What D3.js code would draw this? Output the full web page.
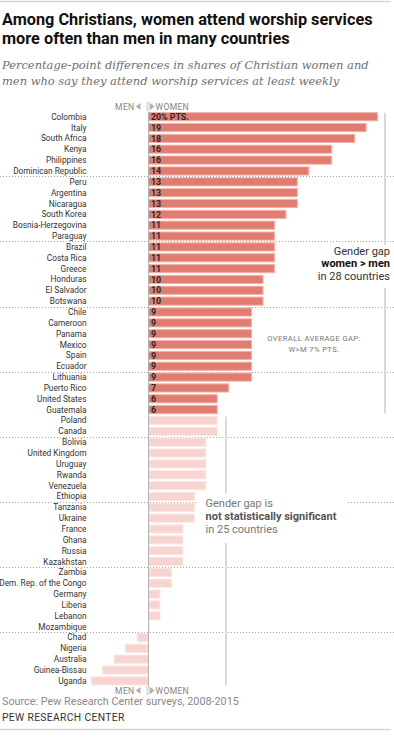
<!DOCTYPE html>
<html>
<head>
<meta charset="utf-8">
<script src="https://cdn.jsdelivr.net/npm/d3@7"></script>
<style>
  body { margin: 0; background: #fff; }
  svg { display: block; }
</style>
</head>
<body>
<div id="chart"></div>
<script>
// gap = % women attending weekly minus % men, Christians only
var countries = [
  "Colombia", "Italy", "South Africa", "Kenya", "Philippines", "Dominican Republic",
  "Peru", "Argentina", "Nicaragua", "South Korea", "Bosnia-Herzegovina", "Paraguay",
  "Brazil", "Costa Rica", "Greece", "Honduras", "El Salvador", "Botswana",
  "Chile", "Cameroon", "Panama", "Mexico", "Spain", "Ecuador",
  "Lithuania", "Puerto Rico", "United States", "Guatemala", "Poland", "Canada",
  "Bolivia", "United Kingdom", "Uruguay", "Rwanda", "Venezuela", "Ethiopia",
  "Tanzania", "Ukraine", "France", "Ghana", "Russia", "Kazakhstan",
  "Zambia", "Dem. Rep. of the Congo", "Germany", "Liberia", "Lebanon", "Mozambique",
  "Chad", "Nigeria", "Australia", "Guinea-Bissau", "Uganda"
];
var gaps = [
  20, 19, 18, 16, 16, 14,
  13, 13, 13, 12, 11, 11,
  11, 11, 11, 10, 10, 10,
  9, 9, 9, 9, 9, 9,
  9, 7, 6, 6, 6, 6,
  5, 5, 5, 5, 5, 4,
  4, 4, 3, 3, 3, 3,
  2, 2, 1, 1, 1, 0,
  -1, -2, -3, -4, -5
];
var significantCount = 28; // first 28 rows: women > men, significant
var groupSize = 6;

var width = 394, height = 741;
var svg = d3.select("#chart").append("svg")
  .attr("width", width).attr("height", height);

var x = d3.scaleLinear().domain([0, 20]).range([148.5, 377.5]);
var y = d3.scaleBand().domain(countries).range([111.3, 686.3]).paddingInner(0.25).paddingOuter(0.125);

var sans = "Roboto, 'Liberation Sans', sans-serif";

// top / bottom rules
svg.append("line").attr("x1", 0).attr("x2", 391).attr("y1", 1.5).attr("y2", 1.5)
  .attr("stroke", "#d6d6d6").attr("stroke-width", 1.5);
svg.append("line").attr("x1", 0).attr("x2", 391).attr("y1", 729.5).attr("y2", 729.5)
  .attr("stroke", "#d6d6d6").attr("stroke-width", 1.5);

// title
var title = svg.append("text").attr("font-family", sans).attr("font-weight", 700)
  .attr("font-size", 16.3).attr("fill", "#111");
title.append("tspan").attr("x", 2).attr("y", 25).text("Among Christians, women attend worship services");
title.append("tspan").attr("x", 2).attr("y", 43.5).text("more often than men in many countries");

// subtitle: size it so the first line spans the same width as the original
var sub = svg.append("text").attr("font-family", "'DejaVu Serif', Georgia, serif")
  .attr("font-style", "italic").attr("font-size", 12).attr("fill", "#6f6f6f");
var sub1 = sub.append("tspan").attr("x", 2).attr("y", 69).text("Percentage-point differences in shares of Christian women and");
sub.append("tspan").attr("x", 2).attr("y", 85).text("men who say they attend worship services at least weekly");
var w1 = sub1.node().getComputedTextLength();
if (w1 > 0) sub.attr("font-size", 12 * 367 / w1);

// group separators
var bounds = [];
countries.forEach(function(c, i) {
  if (i % groupSize === groupSize - 1 && i < countries.length - 1) {
    bounds.push((y(c) + y.bandwidth() + y(countries[i + 1])) / 2);
  }
});
svg.append("g").selectAll("line").data(bounds).join("line")
  .attr("x1", 0).attr("x2", width)
  .attr("y1", function(d) { return Math.round(d) + 0.5; })
  .attr("y2", function(d) { return Math.round(d) + 0.5; })
  .attr("stroke", "#a5a5a5").attr("stroke-width", 1).attr("stroke-dasharray", "1,2");

// brackets on the right
var sigEnd = y(countries[significantCount - 1]) + y.bandwidth();
var nsStart = y(countries[significantCount]);
svg.append("line").attr("x1", 385).attr("x2", 385)
  .attr("y1", y(countries[0])).attr("y2", sigEnd)
  .attr("stroke", "#d9d9d9").attr("stroke-width", 2);
svg.append("line").attr("x1", 226).attr("x2", 226)
  .attr("y1", nsStart).attr("y2", y(countries[countries.length - 1]) + y.bandwidth())
  .attr("stroke", "#d9d9d9").attr("stroke-width", 2);

// bars
var data = countries.map(function(c, i) { return { name: c, gap: gaps[i], sig: i < significantCount }; });

svg.append("g").selectAll("rect").data(data).join("rect")
  .attr("x", function(d) { return Math.min(x(0), x(d.gap)); })
  .attr("y", function(d) { return y(d.name); })
  .attr("width", function(d) { return Math.max(Math.abs(x(d.gap) - x(0)), 0.6); })
  .attr("height", y.bandwidth())
  .attr("fill", function(d) { return d.sig ? "#e07d70" : "#f8d4d0"; })
  .attr("stroke", function(d) { return d.sig ? "#f2b1a8" : "#fbe4e1"; })
  .attr("stroke-width", 1);

// zero line
svg.append("line").attr("x1", x(0)).attr("x2", x(0))
  .attr("y1", y(countries[0]) - 1).attr("y2", y(countries[countries.length - 1]) + y.bandwidth() + 1)
  .attr("stroke", "#b5b5b5").attr("stroke-width", 1);

// value labels
svg.append("g").selectAll("text").data(data.filter(function(d) { return d.sig; })).join("text")
  .attr("x", x(0) + 2.5)
  .attr("y", function(d) { return y(d.name) + y.bandwidth() / 2; })
  .attr("dy", "0.36em")
  .attr("font-family", sans).attr("font-weight", 700).attr("font-size", 8.8)
  .attr("fill", "#2a2a2a")
  .text(function(d, i) { return i === 0 ? d.gap + "% PTS." : d.gap; });

// country labels
svg.append("g").selectAll("text").data(countries).join("text")
  .attr("x", 86.5)
  .attr("y", function(d) { return y(d) + y.bandwidth() / 2; })
  .attr("dy", "0.36em")
  .attr("text-anchor", "end")
  .attr("font-family", sans).attr("font-size", 8.3).attr("fill", "#333")
  .text(function(d) { return d; });

// MEN / WOMEN direction keys
function dirKey(cy) {
  var g = svg.append("g").attr("font-family", sans).attr("font-size", 8.6).attr("fill", "#858585");
  g.append("text").attr("x", x(0) - 14).attr("y", cy).attr("dy", "0.36em")
    .attr("text-anchor", "end").attr("letter-spacing", 0.3).text("MEN");
  g.append("text").attr("x", x(0) + 7).attr("y", cy).attr("dy", "0.36em")
    .attr("letter-spacing", 0.3).text("WOMEN");
  g.append("path").attr("d", "M" + (x(0) - 12.5) + "," + cy + "l4.5,-3.5v7z").attr("fill", "#b0b0b0");
  g.append("path").attr("d", "M" + (x(0) + 6) + "," + cy + "l-4.5,-3.5v7z").attr("fill", "#b0b0b0");
  g.append("line").attr("x1", x(0) - 1.5).attr("x2", x(0) - 1.5).attr("y1", cy - 4.5).attr("y2", cy + 4.5)
    .attr("stroke", "#c8c8c8").attr("stroke-width", 1);
  g.append("line").attr("x1", x(0) + 0.5).attr("x2", x(0) + 0.5).attr("y1", cy - 4.5).attr("y2", cy + 4.5)
    .attr("stroke", "#c8c8c8").attr("stroke-width", 1);
}
dirKey(106.5);
dirKey(690.5);

// annotation: significant gap
svg.append("rect").attr("x", 330).attr("y", 245).attr("width", 64).attr("height", 43).attr("fill", "#fff");
var a1 = svg.append("text").attr("font-family", sans).attr("font-size", 11).attr("fill", "#333")
  .attr("text-anchor", "end");
a1.append("tspan").attr("x", 390).attr("y", 254.5).text("Gender gap");
a1.append("tspan").attr("x", 390).attr("y", 267).attr("font-weight", 700).attr("fill", "#111").text("women > men");
a1.append("tspan").attr("x", 390).attr("y", 279.5).text("in 28 countries");

var avg = svg.append("text").attr("font-family", sans).attr("font-size", 7.6).attr("fill", "#777")
  .attr("text-anchor", "middle").attr("letter-spacing", 0.4);
avg.append("tspan").attr("x", 314).attr("y", 341).text("OVERALL AVERAGE GAP:");
avg.append("tspan").attr("x", 314).attr("y", 351.5).text("W>M 7% PTS.");

// annotation: not significant
svg.append("rect").attr("x", 196).attr("y", 493).attr("width", 150).attr("height", 50).attr("fill", "#fff");
var a2 = svg.append("text").attr("font-family", sans).attr("font-size", 11).attr("fill", "#777");
a2.append("tspan").attr("x", 205.5).attr("y", 507).text("Gender gap is");
a2.append("tspan").attr("x", 205.5).attr("y", 520).attr("font-weight", 700).attr("fill", "#555").text("not statistically significant");
a2.append("tspan").attr("x", 205.5).attr("y", 532.5).text("in 25 countries");

// source & credit
svg.append("text").attr("x", 2).attr("y", 704.5).attr("font-family", sans).attr("font-size", 10.8)
  .attr("fill", "#8a8a8a").text("Source: Pew Research Center surveys, 2008-2015");
svg.append("text").attr("x", 2).attr("y", 721).attr("font-family", sans).attr("font-size", 10.3)
  .attr("fill", "#333").attr("letter-spacing", 0.35).text("PEW RESEARCH CENTER");
</script>
</body>
</html>
